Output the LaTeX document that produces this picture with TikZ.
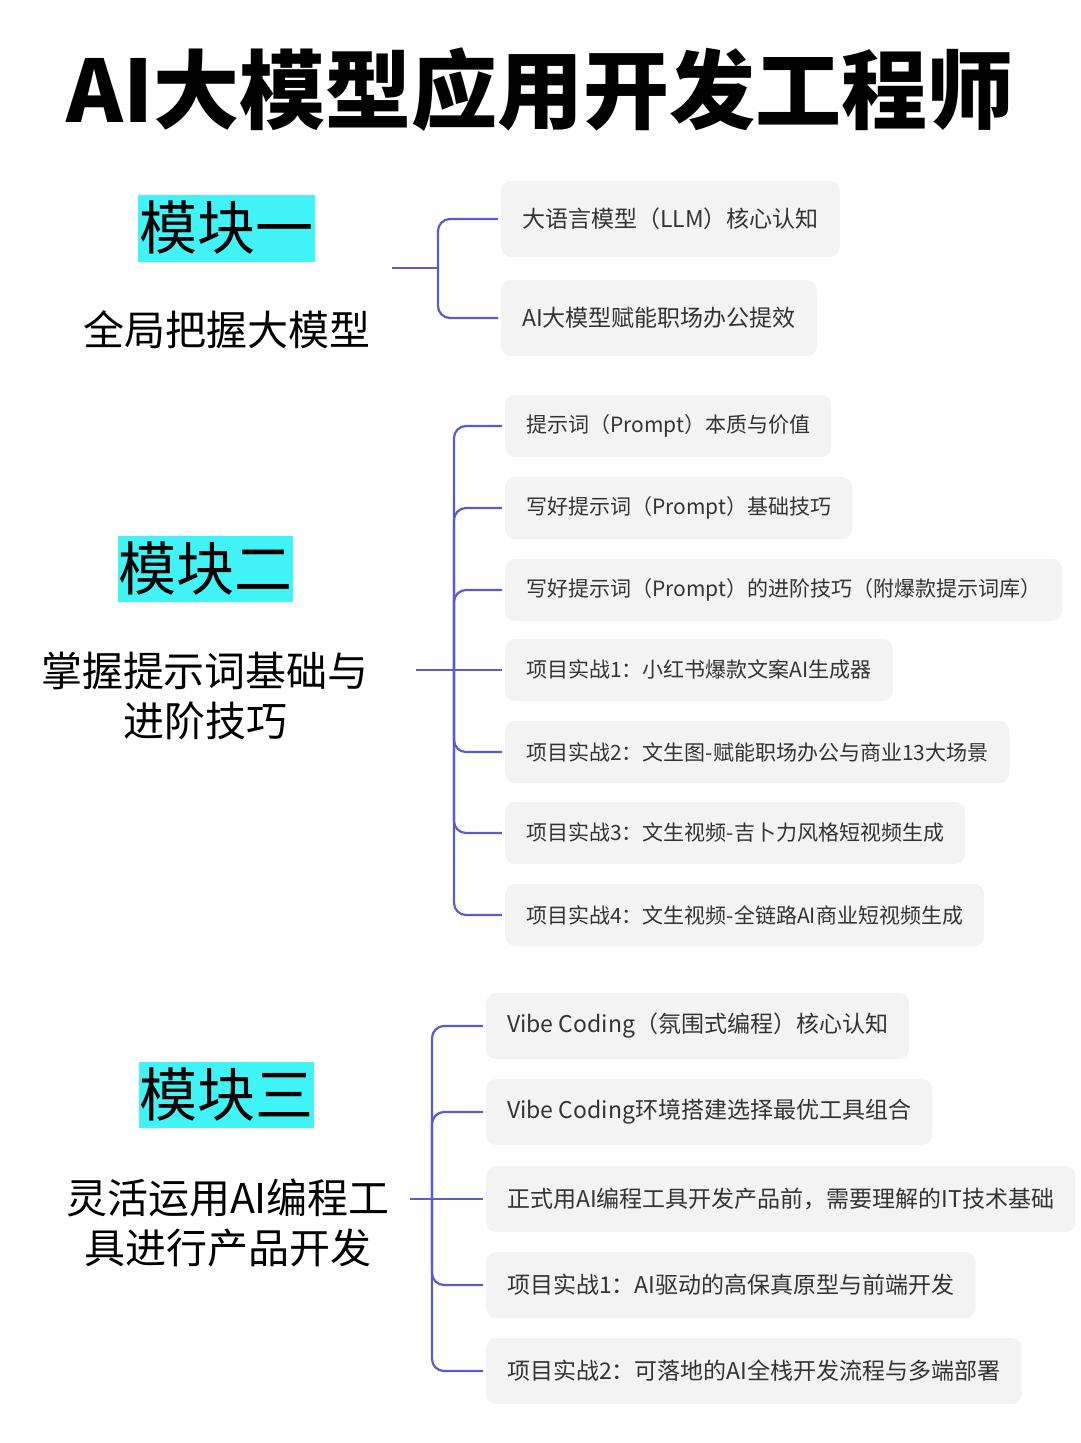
\documentclass[tikz,border=0pt]{standalone}
\usepackage{fontspec}
\setmainfont{Noto Sans CJK SC}
\usetikzlibrary{positioning}
\definecolor{linkblue}{HTML}{5A5AD2}
\definecolor{boxgray}{HTML}{F3F3F3}
\definecolor{tagcyan}{HTML}{3FF3F7}
\tikzset{
  item/.style={fill=boxgray, rounded corners=10pt, anchor=west, inner xsep=21pt,
    font=\fontsize{21}{24}\selectfont, text=black!80},
  bigitem/.style={item, font=\fontsize{23}{26}\selectfont},
  tag/.style={fill=tagcyan, inner sep=0pt, font=\fontsize{58}{60}\selectfont},
  sub/.style={font=\fontsize{41}{50}\selectfont, align=center},
  link/.style={draw=linkblue, line width=2.2pt, rounded corners=12pt},
}
\begin{document}
\begin{tikzpicture}[x=1pt,y=-1pt]
\useasboundingbox[fill=white] (0,0) rectangle (1080,1443);
% title
\node (title) at (540,90) {\fontsize{86}{90}\selectfont\bfseries AI大模型应用开发工程师};
% module one
\node[tag, minimum width=177pt, minimum height=67pt] (tag1) at (226,228) {模块一};
\node[sub] (sub1) at (227,330) {全局把握大模型};
\node[bigitem, minimum height=76pt] (a1) at (501,219) {大语言模型（LLM）核心认知};
\node[bigitem, minimum height=76pt] (a2) at (501,318) {AI大模型赋能职场办公提效};
\coordinate (s1) at (392,268);
\coordinate (v1) at (438,268);
\draw[link] (s1) -- (v1);
\foreach \n in {a1,a2}
  \draw[link] (v1) |- ([xshift=-3pt]\n.west);
% module two
\node[tag, minimum width=175pt, minimum height=66pt] (tag2) at (205,569) {模块二};
\node[sub] (sub2) at (205,696) {掌握提示词基础与\\进阶技巧};
\node[item, minimum height=62pt] (b1) at (505,426) {提示词（Prompt）本质与价值};
\node[item, minimum height=62pt] (b2) at (505,508) {写好提示词（Prompt）基础技巧};
\node[item, minimum height=62pt] (b3) at (505,590) {写好提示词（Prompt）的进阶技巧（附爆款提示词库）};
\node[item, minimum height=62pt] (b4) at (505,670) {项目实战1：小红书爆款文案AI生成器};
\node[item, minimum height=62pt] (b5) at (505,752) {项目实战2：文生图-赋能职场办公与商业13大场景};
\node[item, minimum height=62pt] (b6) at (505,833) {项目实战3：文生视频-吉卜力风格短视频生成};
\node[item, minimum height=62pt] (b7) at (505,915) {项目实战4：文生视频-全链路AI商业短视频生成};
\coordinate (s2) at (416,670);
\coordinate (v2) at (454,670);
\draw[link] (s2) -- ([xshift=-3pt]b4.west);
\foreach \n in {b1,b2,b3,b5,b6,b7}
  \draw[link] (v2) |- ([xshift=-3pt]\n.west);
% module three
\node[tag, minimum width=175pt, minimum height=66pt] (tag3) at (226,1095) {模块三};
\node[sub] (sub3) at (228,1223) {灵活运用AI编程工\\具进行产品开发};
\node[bigitem, minimum height=66pt] (c1) at (486,1026) {Vibe Coding（氛围式编程）核心认知};
\node[bigitem, minimum height=66pt] (c2) at (486,1112) {Vibe Coding环境搭建选择最优工具组合};
\node[bigitem, minimum height=66pt] (c3) at (486,1199) {正式用AI编程工具开发产品前，需要理解的IT技术基础};
\node[bigitem, minimum height=66pt] (c4) at (486,1285) {项目实战1：AI驱动的高保真原型与前端开发};
\node[bigitem, minimum height=66pt] (c5) at (486,1371) {项目实战2：可落地的AI全栈开发流程与多端部署};
\coordinate (s3) at (410,1199);
\coordinate (v3) at (432,1199);
\draw[link] (s3) -- ([xshift=-3pt]c3.west);
\foreach \n in {c1,c2,c4,c5}
  \draw[link] (v3) |- ([xshift=-3pt]\n.west);
\end{tikzpicture}
\end{document}
